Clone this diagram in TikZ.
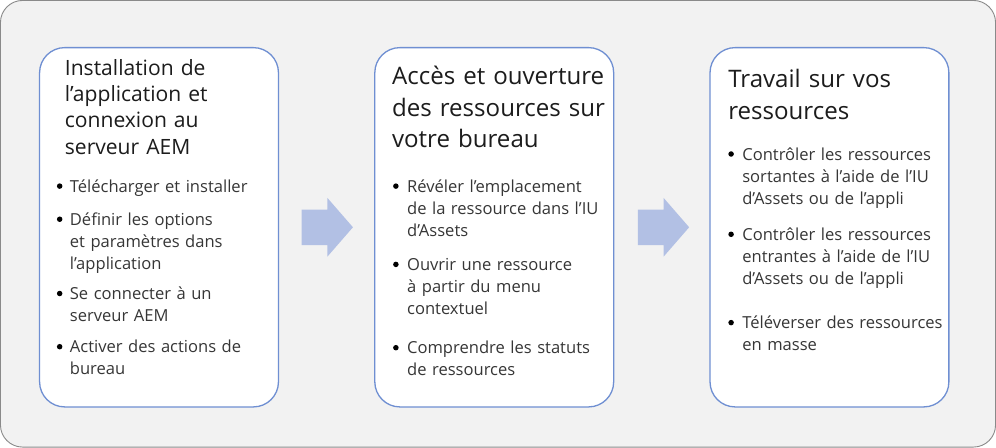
\documentclass[tikz,border=0pt]{standalone}
\usepackage{fontspec}
\setmainfont{Open Sans}
\usetikzlibrary{shapes.arrows}
\definecolor{panelgray}{HTML}{F2F2F2}
\definecolor{framegray}{HTML}{8A8A8A}
\definecolor{stageblue}{HTML}{6F8FD2}
\definecolor{flowblue}{HTML}{B2C0E4}
\definecolor{headink}{HTML}{1C1C1C}
\definecolor{itemink}{HTML}{363636}

\begin{document}
\begin{tikzpicture}[x=1pt, y=-1pt]
      % Styles for panels, steps and texts
      \tikzset{stage/.style={draw=stageblue, line width=1.3pt, fill=white, rounded corners=25pt}}
      \tikzset{flow/.style={single arrow, fill=flowblue, draw=none, inner xsep=0pt, inner ysep=17.5pt,
          minimum height=51pt, single arrow head extend=11.5pt,
          single arrow tip angle=98, shape border rotate=0}}
      \tikzset{headbig/.style={anchor=base west, align=left, inner sep=0pt, text=headink,
          text width=240pt, font=\fontsize{24}{31.5}\selectfont}}
      \tikzset{headsmall/.style={headbig, font=\fontsize{21}{26}\selectfont}}
      \tikzset{item/.style={anchor=base west, align=left, inner sep=0pt, text=itemink,
          text width=230pt, font=\fontsize{16.5}{22}\selectfont}}
      \tikzset{dot/.style={circle, fill=black, inner sep=0pt, minimum size=5.5pt}}

      % Background panel
      \draw[fill=panelgray, draw=framegray, line width=0.9pt, rounded corners=22pt] (2,2) rectangle (993.5,447);

      % Stage boxes
      \draw[stage] (41,49) rectangle (279,407);
      \draw[stage] (375,49) rectangle (613,407);
      \draw[stage] (709,49) rectangle (947,407);

      % Arrows between stages
      \node[flow] (go1) at (320,228) {};
      \node[flow] (go2) at (655,228) {};

      % --- Stage 1 ---
      \node[headsmall] (t1) at (66,77) {Installation de\\l’application et\\connexion au\\serveur AEM};
      \node[dot] (d1a) at (61,187) {};
      \node[item] (i1a) at (71,193) {Télécharger et installer};
      \node[dot] (d1b) at (61,220) {};
      \node[item] (i1b) at (71,226) {Définir les options\\et paramètres dans\\l’application};
      \node[dot] (d1c) at (61,294) {};
      \node[item] (i1c) at (71,300) {Se connecter à un\\serveur AEM};
      \node[dot] (d1d) at (61,347) {};
      \node[item] (i1d) at (71,353) {Activer des actions de\\bureau};

      % --- Stage 2 ---
      \node[headbig] (t2) at (392,86) {Accès et ouverture\\des ressources sur\\votre bureau};
      \node[dot] (d2a) at (396,187) {};
      \node[item] (i2a) at (407,193) {Révéler l’emplacement\\de la ressource dans l’IU\\d’Assets};
      \node[dot] (d2b) at (396,265) {};
      \node[item] (i2b) at (407,271) {Ouvrir une ressource\\à partir du menu\\contextuel};
      \node[dot] (d2c) at (396,348) {};
      \node[item] (i2c) at (407,354) {Comprendre les statuts\\de ressources};

      % --- Stage 3 ---
      \node[headbig] (t3) at (727,89) {Travail sur vos\\ressources};
      \node[dot] (d3a) at (730,155) {};
      \node[item] (i3a) at (741,161) {Contrôler les ressources\\sortantes à l’aide de l’IU\\d’Assets ou de l’appli};
      \node[dot] (d3b) at (730,235) {};
      \node[item] (i3b) at (741,241) {Contrôler les ressources\\entrantes à l’aide de l’IU\\d’Assets ou de l’appli};
      \node[dot] (d3c) at (730,323) {};
      \node[item] (i3c) at (741,329) {Téléverser des ressources\\en masse};
\end{tikzpicture}
\end{document}
